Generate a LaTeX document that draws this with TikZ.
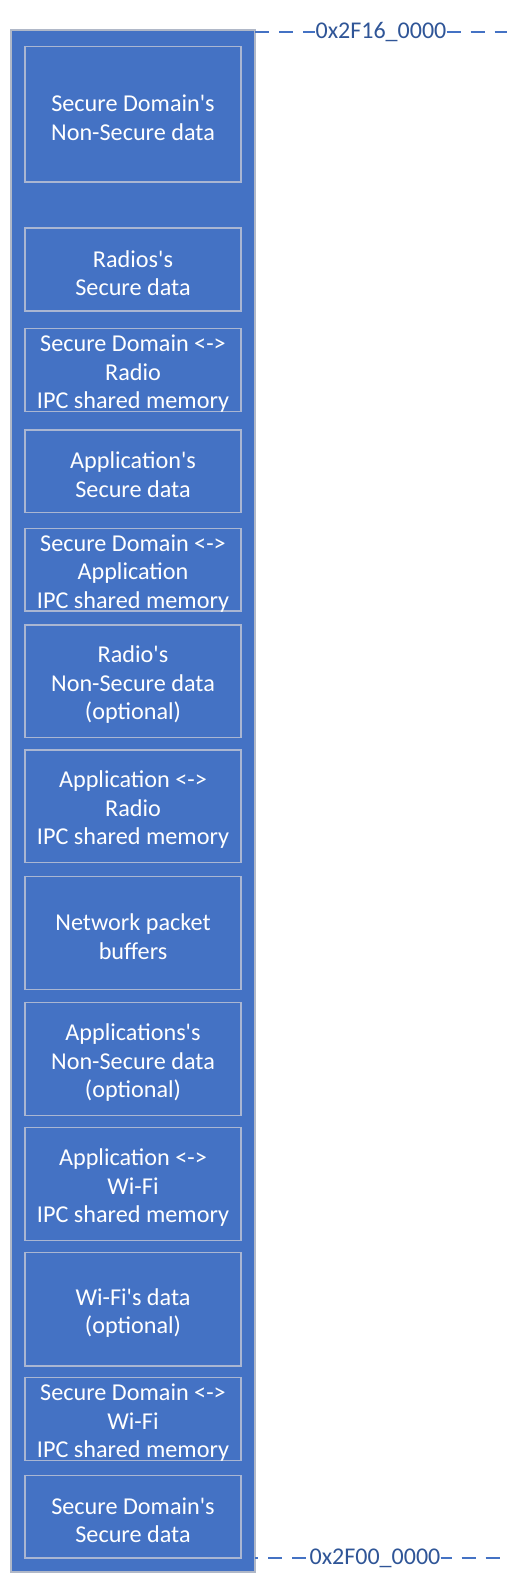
\documentclass[tikz,border=0pt]{standalone}
\usepackage{fontspec}
\setmainfont{Carlito}
\newcommand{\sq}{\textquotesingle}
\definecolor{ofblue}{RGB}{68,114,196}
\definecolor{lblue}{RGB}{47,85,151}
\definecolor{bord}{RGB}{170,182,210}
\definecolor{obord}{RGB}{176,184,200}
\tikzset{
  memb/.style={draw=bord, line width=1.3pt, fill=ofblue, minimum width=216pt, inner sep=0pt},
  membtext/.style={text=white, align=center, inner sep=0pt, yshift=-3.5pt,
    font=\fontsize{24.2}{28.5}\selectfont},
  outerbox/.style={draw=obord, line width=1.5pt, fill=ofblue, inner sep=0pt},
  addr/.style={text=lblue, fill=white, inner sep=0pt, font=\fontsize{24}{28.5}\selectfont},
  dashline/.style={draw=ofblue, line width=2pt, dash pattern=on 14pt off 10pt}
}
\begin{document}
\begin{tikzpicture}[x=1pt,y=-1pt]
\useasboundingbox[fill=white] (0,0) rectangle (517,1594);
\node[outerbox, minimum width=244pt, minimum height=1542pt] (outer) at (133,801) {};
% boxes: center y = (top+bottom)/2, height = bottom-top
\node[memb, minimum height=135.3pt] (b1) at (133,114.3) {};
\node[memb, minimum height=83pt] (b2) at (133,269.5) {};
\node[memb, minimum height=83pt] (b3) at (133,370.2) {};
\node[memb, minimum height=82.3pt] (b4) at (133,471.2) {};
\node[memb, minimum height=82.7pt] (b5) at (133,569.7) {};
\node[memb, minimum height=112.3pt] (b6) at (133,681.2) {};
\node[memb, minimum height=112.7pt] (b7) at (133,806.4) {};
\node[memb, minimum height=112.6pt] (b8) at (133,933) {};
\node[memb, minimum height=113pt] (b9) at (133,1059.2) {};
\node[memb, minimum height=113pt] (b10) at (133,1184.2) {};
\node[memb, minimum height=113.3pt] (b11) at (133,1309.4) {};
\node[memb, minimum height=83pt] (b12) at (133,1419.2) {};
\node[memb, minimum height=82.3pt] (b13) at (133,1516.9) {};
\node[membtext] (t1x) at (b1.center) {Secure Domain\sq s\\Non-Secure data};
\node[membtext] (t2x) at (b2.center) {Radios\sq s\\Secure data};
\node[membtext] (t3x) at (b3.center) {Secure Domain <->\\Radio\\IPC shared memory};
\node[membtext] (t4x) at (b4.center) {Application\sq s\\Secure data};
\node[membtext] (t5x) at (b5.center) {Secure Domain <->\\Application\\IPC shared memory};
\node[membtext] (t6x) at (b6.center) {Radio\sq s\\Non-Secure data\\(optional)};
\node[membtext] (t7x) at (b7.center) {Application <->\\Radio\\IPC shared memory};
\node[membtext] (t8x) at (b8.center) {Network packet\\buffers};
\node[membtext] (t9x) at (b9.center) {Applications\sq s\\Non-Secure data\\(optional)};
\node[membtext] (t10x) at (b10.center) {Application <->\\Wi-Fi\\IPC shared memory};
\node[membtext] (t11x) at (b11.center) {Wi-Fi\sq s data\\(optional)};
\node[membtext] (t12x) at (b12.center) {Secure Domain <->\\Wi-Fi\\IPC shared memory};
\node[membtext] (t13x) at (b13.center) {Secure Domain\sq s\\Secure data};
% address markers
\coordinate (t0) at (255,32);
\node[addr] (tl) at (381,32) {0x2F16\_0000};
\coordinate (t1) at (507,32);
\draw[dashline] (t0) -- (tl.west);
\draw[dashline] (tl.east) -- (t1);
\coordinate (u0) at (255,1558);
\node[addr] (ul) at (375,1558) {0x2F00\_0000};
\coordinate (u1) at (508,1558);
\draw[dashline, dash phase=11pt] (u0) -- (ul.west);
\draw[dashline, dash phase=3pt] (ul.east) -- (u1);
\end{tikzpicture}
\end{document}
